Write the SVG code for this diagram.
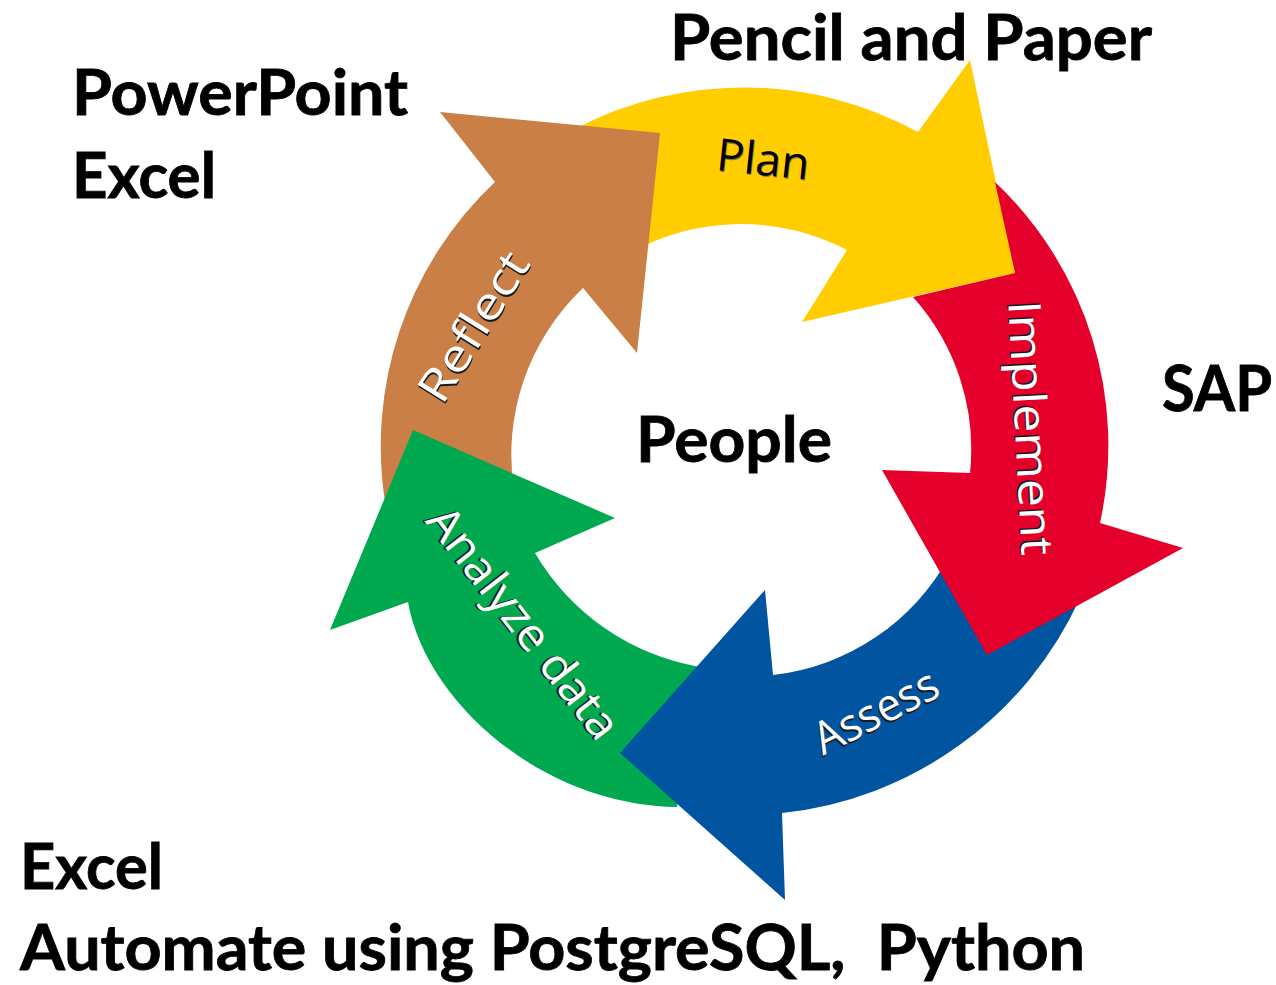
<svg xmlns="http://www.w3.org/2000/svg" width="1276" height="985" viewBox="0 0 1276 985">
<style>
.big{font-family:Lato,"Liberation Sans",Arial,sans-serif;font-weight:700;font-size:63px;fill:#000;stroke:#000;stroke-width:0.8px}
.lbl{font-family:"Open Sans","Liberation Sans",Arial,sans-serif;font-size:45px;text-anchor:middle}
.w{fill:#fff}
.sh{fill:#1a1a1a}
.k{fill:#000}
.ks{fill:#8a7a30}
</style>
<rect width="1276" height="985" fill="#fff"/>
<g id="arrows">
  <g id="plan">
    <path d="M575,129 A363,363 0 0 1 918,132 L970,60 L1015,273 L802,322 L847,250 A228,228 0 0 0 630,253 Z" fill="#FFCD00"/>
    <g transform="translate(763,160) rotate(6)">
      <text class="lbl ks" x="1" y="16" textLength="93" lengthAdjust="spacingAndGlyphs">Plan</text>
      <text class="lbl k" x="0" y="15" textLength="93" lengthAdjust="spacingAndGlyphs">Plan</text>
    </g>
  </g>
  <g id="reflect">
    <path d="M386,508 A363,363 0 0 1 495,182 L440,112 L660,133 L637,353 L583,288 A230,230 0 0 0 514,490 Z" fill="#C97F45"/>
    <g transform="translate(474,327) rotate(-58)">
      <text class="lbl sh" x="-1.5" y="16.5" textLength="168" lengthAdjust="spacingAndGlyphs">Reflect</text>
      <text class="lbl w" x="0" y="15" textLength="168" lengthAdjust="spacingAndGlyphs">Reflect</text>
    </g>
  </g>
  <g id="analyze">
    <path d="M700,667 A238,238 0 0 1 535,553 L615,518 L413,430 L330,630 L408,602 C425,700 540,805 677,807 Z" fill="#00A94F"/>
    <g transform="translate(523,623) rotate(52)">
      <text class="lbl sh" x="-1.5" y="16.5" textLength="282" lengthAdjust="spacingAndGlyphs">Analyze data</text>
      <text class="lbl w" x="0" y="15" textLength="282" lengthAdjust="spacingAndGlyphs">Analyze data</text>
    </g>
  </g>
  <g id="assess">
    <path d="M1080,598 A370,370 0 0 1 782,813 L785,900 L620,753 L765,590 L773,675 A230,230 0 0 0 950,555 Z" fill="#0054A0"/>
    <g transform="translate(876,712) rotate(-27)">
      <text class="lbl sh" x="-1.5" y="16.5" textLength="134" lengthAdjust="spacingAndGlyphs">Assess</text>
      <text class="lbl w" x="0" y="15" textLength="134" lengthAdjust="spacingAndGlyphs">Assess</text>
    </g>
  </g>
  <g id="implement">
    <path d="M995,182 A363,363 0 0 1 1100,523 L1183,548 L987,655 L882,470 L970,473 A228,228 0 0 0 913,297 L1015,273 Z" fill="#E4002B"/>
    <g transform="translate(1030,428) rotate(87)">
      <text class="lbl sh" x="-1.5" y="16.5" textLength="255" lengthAdjust="spacingAndGlyphs">Implement</text>
      <text class="lbl w" x="0" y="15" textLength="255" lengthAdjust="spacingAndGlyphs">Implement</text>
    </g>
  </g>
</g>
<g id="people"><text class="big" x="636" y="462" textLength="196" lengthAdjust="spacingAndGlyphs">People</text></g>
<g id="tools-plan"><text class="big" x="670" y="60" textLength="482" lengthAdjust="spacingAndGlyphs">Pencil and Paper</text></g>
<g id="tools-reflect">
  <text class="big" x="72" y="115" textLength="336" lengthAdjust="spacingAndGlyphs">PowerPoint</text>
  <text class="big" x="72" y="198" textLength="144" lengthAdjust="spacingAndGlyphs">Excel</text>
</g>
<g id="tools-implement"><text class="big" x="1162" y="411" textLength="110" lengthAdjust="spacingAndGlyphs">SAP</text></g>
<g id="tools-analyze">
  <text class="big" x="20" y="889" textLength="143" lengthAdjust="spacingAndGlyphs">Excel</text>
  <text class="big" x="20" y="970" xml:space="preserve" textLength="1065" lengthAdjust="spacingAndGlyphs">Automate using PostgreSQL,  Python</text>
</g>
</svg>
